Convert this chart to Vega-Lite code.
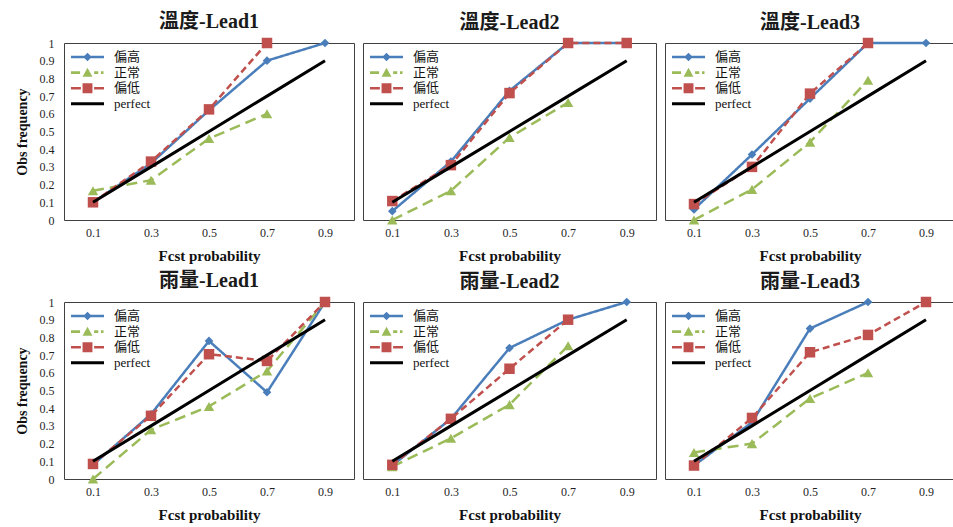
{
  "$schema": "https://vega.github.io/schema/vega-lite/v6.json",
  "background": "white",
  "padding": {"left": 14, "top": 11, "right": 0, "bottom": 0},
  "autosize": {"type": "pad"},
  "datasets": {
    "rel": [
      {"panel": "溫度-Lead1", "series": "偏高", "prob": 0.1, "obs": 0.10},
      {"panel": "溫度-Lead1", "series": "偏高", "prob": 0.3, "obs": 0.32},
      {"panel": "溫度-Lead1", "series": "偏高", "prob": 0.5, "obs": 0.62},
      {"panel": "溫度-Lead1", "series": "偏高", "prob": 0.7, "obs": 0.90},
      {"panel": "溫度-Lead1", "series": "偏高", "prob": 0.9, "obs": 1.0},
      {"panel": "溫度-Lead1", "series": "正常", "prob": 0.1, "obs": 0.165},
      {"panel": "溫度-Lead1", "series": "正常", "prob": 0.3, "obs": 0.225},
      {"panel": "溫度-Lead1", "series": "正常", "prob": 0.5, "obs": 0.46},
      {"panel": "溫度-Lead1", "series": "正常", "prob": 0.7, "obs": 0.60},
      {"panel": "溫度-Lead1", "series": "偏低", "prob": 0.1, "obs": 0.10},
      {"panel": "溫度-Lead1", "series": "偏低", "prob": 0.3, "obs": 0.33},
      {"panel": "溫度-Lead1", "series": "偏低", "prob": 0.5, "obs": 0.625},
      {"panel": "溫度-Lead1", "series": "偏低", "prob": 0.7, "obs": 1.0},
      {"panel": "溫度-Lead1", "series": "perfect", "prob": 0.1, "obs": 0.1},
      {"panel": "溫度-Lead1", "series": "perfect", "prob": 0.3, "obs": 0.3},
      {"panel": "溫度-Lead1", "series": "perfect", "prob": 0.5, "obs": 0.5},
      {"panel": "溫度-Lead1", "series": "perfect", "prob": 0.7, "obs": 0.7},
      {"panel": "溫度-Lead1", "series": "perfect", "prob": 0.9, "obs": 0.9},

      {"panel": "溫度-Lead2", "series": "偏高", "prob": 0.1, "obs": 0.05},
      {"panel": "溫度-Lead2", "series": "偏高", "prob": 0.3, "obs": 0.33},
      {"panel": "溫度-Lead2", "series": "偏高", "prob": 0.5, "obs": 0.73},
      {"panel": "溫度-Lead2", "series": "偏高", "prob": 0.7, "obs": 1.0},
      {"panel": "溫度-Lead2", "series": "偏高", "prob": 0.9, "obs": 1.0},
      {"panel": "溫度-Lead2", "series": "正常", "prob": 0.1, "obs": 0.0},
      {"panel": "溫度-Lead2", "series": "正常", "prob": 0.3, "obs": 0.165},
      {"panel": "溫度-Lead2", "series": "正常", "prob": 0.5, "obs": 0.466},
      {"panel": "溫度-Lead2", "series": "正常", "prob": 0.7, "obs": 0.664},
      {"panel": "溫度-Lead2", "series": "偏低", "prob": 0.1, "obs": 0.107},
      {"panel": "溫度-Lead2", "series": "偏低", "prob": 0.3, "obs": 0.31},
      {"panel": "溫度-Lead2", "series": "偏低", "prob": 0.5, "obs": 0.717},
      {"panel": "溫度-Lead2", "series": "偏低", "prob": 0.7, "obs": 1.0},
      {"panel": "溫度-Lead2", "series": "偏低", "prob": 0.9, "obs": 1.0},
      {"panel": "溫度-Lead2", "series": "perfect", "prob": 0.1, "obs": 0.1},
      {"panel": "溫度-Lead2", "series": "perfect", "prob": 0.3, "obs": 0.3},
      {"panel": "溫度-Lead2", "series": "perfect", "prob": 0.5, "obs": 0.5},
      {"panel": "溫度-Lead2", "series": "perfect", "prob": 0.7, "obs": 0.7},
      {"panel": "溫度-Lead2", "series": "perfect", "prob": 0.9, "obs": 0.9},

      {"panel": "溫度-Lead3", "series": "偏高", "prob": 0.1, "obs": 0.06},
      {"panel": "溫度-Lead3", "series": "偏高", "prob": 0.3, "obs": 0.37},
      {"panel": "溫度-Lead3", "series": "偏高", "prob": 0.5, "obs": 0.686},
      {"panel": "溫度-Lead3", "series": "偏高", "prob": 0.7, "obs": 1.0},
      {"panel": "溫度-Lead3", "series": "偏高", "prob": 0.9, "obs": 1.0},
      {"panel": "溫度-Lead3", "series": "正常", "prob": 0.1, "obs": 0.0},
      {"panel": "溫度-Lead3", "series": "正常", "prob": 0.3, "obs": 0.173},
      {"panel": "溫度-Lead3", "series": "正常", "prob": 0.5, "obs": 0.44},
      {"panel": "溫度-Lead3", "series": "正常", "prob": 0.7, "obs": 0.79},
      {"panel": "溫度-Lead3", "series": "偏低", "prob": 0.1, "obs": 0.09},
      {"panel": "溫度-Lead3", "series": "偏低", "prob": 0.3, "obs": 0.30},
      {"panel": "溫度-Lead3", "series": "偏低", "prob": 0.5, "obs": 0.714},
      {"panel": "溫度-Lead3", "series": "偏低", "prob": 0.7, "obs": 1.0},
      {"panel": "溫度-Lead3", "series": "perfect", "prob": 0.1, "obs": 0.1},
      {"panel": "溫度-Lead3", "series": "perfect", "prob": 0.3, "obs": 0.3},
      {"panel": "溫度-Lead3", "series": "perfect", "prob": 0.5, "obs": 0.5},
      {"panel": "溫度-Lead3", "series": "perfect", "prob": 0.7, "obs": 0.7},
      {"panel": "溫度-Lead3", "series": "perfect", "prob": 0.9, "obs": 0.9},

      {"panel": "雨量-Lead1", "series": "偏高", "prob": 0.1, "obs": 0.08},
      {"panel": "雨量-Lead1", "series": "偏高", "prob": 0.3, "obs": 0.366},
      {"panel": "雨量-Lead1", "series": "偏高", "prob": 0.5, "obs": 0.78},
      {"panel": "雨量-Lead1", "series": "偏高", "prob": 0.7, "obs": 0.49},
      {"panel": "雨量-Lead1", "series": "偏高", "prob": 0.9, "obs": 1.0},
      {"panel": "雨量-Lead1", "series": "正常", "prob": 0.1, "obs": 0.0},
      {"panel": "雨量-Lead1", "series": "正常", "prob": 0.3, "obs": 0.278},
      {"panel": "雨量-Lead1", "series": "正常", "prob": 0.5, "obs": 0.41},
      {"panel": "雨量-Lead1", "series": "正常", "prob": 0.7, "obs": 0.61},
      {"panel": "雨量-Lead1", "series": "正常", "prob": 0.9, "obs": 1.0},
      {"panel": "雨量-Lead1", "series": "偏低", "prob": 0.1, "obs": 0.085},
      {"panel": "雨量-Lead1", "series": "偏低", "prob": 0.3, "obs": 0.357},
      {"panel": "雨量-Lead1", "series": "偏低", "prob": 0.5, "obs": 0.705},
      {"panel": "雨量-Lead1", "series": "偏低", "prob": 0.7, "obs": 0.667},
      {"panel": "雨量-Lead1", "series": "偏低", "prob": 0.9, "obs": 1.0},
      {"panel": "雨量-Lead1", "series": "perfect", "prob": 0.1, "obs": 0.1},
      {"panel": "雨量-Lead1", "series": "perfect", "prob": 0.3, "obs": 0.3},
      {"panel": "雨量-Lead1", "series": "perfect", "prob": 0.5, "obs": 0.5},
      {"panel": "雨量-Lead1", "series": "perfect", "prob": 0.7, "obs": 0.7},
      {"panel": "雨量-Lead1", "series": "perfect", "prob": 0.9, "obs": 0.9},

      {"panel": "雨量-Lead2", "series": "偏高", "prob": 0.1, "obs": 0.077},
      {"panel": "雨量-Lead2", "series": "偏高", "prob": 0.3, "obs": 0.34},
      {"panel": "雨量-Lead2", "series": "偏高", "prob": 0.5, "obs": 0.74},
      {"panel": "雨量-Lead2", "series": "偏高", "prob": 0.7, "obs": 0.90},
      {"panel": "雨量-Lead2", "series": "偏高", "prob": 0.9, "obs": 1.0},
      {"panel": "雨量-Lead2", "series": "正常", "prob": 0.1, "obs": 0.07},
      {"panel": "雨量-Lead2", "series": "正常", "prob": 0.3, "obs": 0.23},
      {"panel": "雨量-Lead2", "series": "正常", "prob": 0.5, "obs": 0.42},
      {"panel": "雨量-Lead2", "series": "正常", "prob": 0.7, "obs": 0.753},
      {"panel": "雨量-Lead2", "series": "偏低", "prob": 0.1, "obs": 0.08},
      {"panel": "雨量-Lead2", "series": "偏低", "prob": 0.3, "obs": 0.34},
      {"panel": "雨量-Lead2", "series": "偏低", "prob": 0.5, "obs": 0.623},
      {"panel": "雨量-Lead2", "series": "偏低", "prob": 0.7, "obs": 0.90},
      {"panel": "雨量-Lead2", "series": "perfect", "prob": 0.1, "obs": 0.1},
      {"panel": "雨量-Lead2", "series": "perfect", "prob": 0.3, "obs": 0.3},
      {"panel": "雨量-Lead2", "series": "perfect", "prob": 0.5, "obs": 0.5},
      {"panel": "雨量-Lead2", "series": "perfect", "prob": 0.7, "obs": 0.7},
      {"panel": "雨量-Lead2", "series": "perfect", "prob": 0.9, "obs": 0.9},

      {"panel": "雨量-Lead3", "series": "偏高", "prob": 0.1, "obs": 0.076},
      {"panel": "雨量-Lead3", "series": "偏高", "prob": 0.3, "obs": 0.32},
      {"panel": "雨量-Lead3", "series": "偏高", "prob": 0.5, "obs": 0.85},
      {"panel": "雨量-Lead3", "series": "偏高", "prob": 0.7, "obs": 1.0},
      {"panel": "雨量-Lead3", "series": "正常", "prob": 0.1, "obs": 0.15},
      {"panel": "雨量-Lead3", "series": "正常", "prob": 0.3, "obs": 0.20},
      {"panel": "雨量-Lead3", "series": "正常", "prob": 0.5, "obs": 0.455},
      {"panel": "雨量-Lead3", "series": "正常", "prob": 0.7, "obs": 0.60},
      {"panel": "雨量-Lead3", "series": "偏低", "prob": 0.1, "obs": 0.076},
      {"panel": "雨量-Lead3", "series": "偏低", "prob": 0.3, "obs": 0.345},
      {"panel": "雨量-Lead3", "series": "偏低", "prob": 0.5, "obs": 0.716},
      {"panel": "雨量-Lead3", "series": "偏低", "prob": 0.7, "obs": 0.814},
      {"panel": "雨量-Lead3", "series": "偏低", "prob": 0.9, "obs": 1.0},
      {"panel": "雨量-Lead3", "series": "perfect", "prob": 0.1, "obs": 0.1},
      {"panel": "雨量-Lead3", "series": "perfect", "prob": 0.3, "obs": 0.3},
      {"panel": "雨量-Lead3", "series": "perfect", "prob": 0.5, "obs": 0.5},
      {"panel": "雨量-Lead3", "series": "perfect", "prob": 0.7, "obs": 0.7},
      {"panel": "雨量-Lead3", "series": "perfect", "prob": 0.9, "obs": 0.9}
    ]
  },
  "data": {"name": "rel"},
  "columns": 3,
  "align": "each",
  "bounds": "flush",
  "spacing": {"row": 82, "column": 9},
  "resolve": {
    "scale": {"color": "independent", "shape": "independent", "strokeDash": "independent"},
    "legend": {"color": "independent", "shape": "independent"}
  },
  "concat": [
    {
      "title": "溫度-Lead1", "width": 290, "height": 177,
      "transform": [{"filter": "datum.panel === '溫度-Lead1'"}],
      "encoding": {
        "x": {"field": "prob", "type": "ordinal", "scale": {"type": "point", "padding": 0.5, "domain": [0.1, 0.3, 0.5, 0.7, 0.9]}, "axis": {"title": "Fcst probability"}},
        "y": {"field": "obs", "type": "quantitative", "scale": {"domain": [0, 1], "nice": false}, "axis": {"title": "Obs frequency", "values": [0, 0.1, 0.2, 0.3, 0.4, 0.5, 0.6, 0.7, 0.8, 0.9, 1], "format": "~g"}}
      },
      "layer": [
        {"mark": {"type": "point", "filled": true, "opacity": 0},
         "encoding": {
           "color": {"field": "series", "type": "nominal", "scale": {"domain": ["偏高", "正常", "偏低", "perfect"], "range": ["#4A7EBB", "#9BBB59", "#C0504D", "#000000"]}, "legend": {"title": null}},
           "shape": {"field": "series", "type": "nominal", "scale": {"domain": ["偏高", "正常", "偏低", "perfect"], "range": ["M-1,-0.08H1V0.08H-1Z M0,-0.26L0.26,0L0,0.26L-0.26,0Z", "M-1,-0.08H-0.45V0.08H-1Z M0,-0.3L0.3,0.25H-0.3Z M0.4,-0.08H0.65V0.08H0.4Z M0.82,-0.08H0.97V0.08H0.82Z", "M-1,-0.08H-0.4V0.08H-1Z M-0.3,-0.3H0.3V0.3H-0.3Z M0.4,-0.08H1V0.08H0.4Z", "M-1,-0.09H1V0.09H-1Z"]}, "legend": {"title": null}}
         }},
        {"transform": [{"filter": "datum.series !== 'perfect'"}],
         "mark": {"type": "line", "strokeWidth": 2.5},
         "encoding": {
           "color": {"field": "series", "type": "nominal", "scale": {"domain": ["偏高", "正常", "偏低", "perfect"], "range": ["#4A7EBB", "#9BBB59", "#C0504D", "#000000"]}, "legend": null},
           "strokeDash": {"field": "series", "type": "nominal", "scale": {"domain": ["偏高", "正常", "偏低", "perfect"], "range": [[1, 0], [11, 6], [7, 4], [1, 0]]}, "legend": null}
         }},
        {"transform": [{"filter": "datum.series === '偏高'"}], "mark": {"type": "point", "shape": "diamond", "filled": true, "opacity": 1, "size": 75, "color": "#4A7EBB"}, "encoding": {}},
        {"transform": [{"filter": "datum.series === '正常'"}], "mark": {"type": "point", "shape": "triangle-up", "filled": true, "opacity": 1, "size": 110, "color": "#9BBB59"}, "encoding": {}},
        {"transform": [{"filter": "datum.series === '偏低'"}], "mark": {"type": "point", "shape": "square", "filled": true, "opacity": 1, "size": 110, "color": "#C0504D"}, "encoding": {}},
        {"transform": [{"filter": "datum.series === 'perfect'"}], "mark": {"type": "line", "strokeWidth": 3, "color": "#000000"}, "encoding": {}}
      ]
    },
    {
      "title": "溫度-Lead2", "width": 293, "height": 177,
      "transform": [{"filter": "datum.panel === '溫度-Lead2'"}],
      "encoding": {
        "x": {"field": "prob", "type": "ordinal", "scale": {"type": "point", "padding": 0.5, "domain": [0.1, 0.3, 0.5, 0.7, 0.9]}, "axis": {"title": "Fcst probability"}},
        "y": {"field": "obs", "type": "quantitative", "scale": {"domain": [0, 1], "nice": false}, "axis": null}
      },
      "layer": [
        {"mark": {"type": "point", "filled": true, "opacity": 0},
         "encoding": {
           "color": {"field": "series", "type": "nominal", "scale": {"domain": ["偏高", "正常", "偏低", "perfect"], "range": ["#4A7EBB", "#9BBB59", "#C0504D", "#000000"]}, "legend": {"title": null}},
           "shape": {"field": "series", "type": "nominal", "scale": {"domain": ["偏高", "正常", "偏低", "perfect"], "range": ["M-1,-0.08H1V0.08H-1Z M0,-0.26L0.26,0L0,0.26L-0.26,0Z", "M-1,-0.08H-0.45V0.08H-1Z M0,-0.3L0.3,0.25H-0.3Z M0.4,-0.08H0.65V0.08H0.4Z M0.82,-0.08H0.97V0.08H0.82Z", "M-1,-0.08H-0.4V0.08H-1Z M-0.3,-0.3H0.3V0.3H-0.3Z M0.4,-0.08H1V0.08H0.4Z", "M-1,-0.09H1V0.09H-1Z"]}, "legend": {"title": null}}
         }},
        {"transform": [{"filter": "datum.series !== 'perfect'"}],
         "mark": {"type": "line", "strokeWidth": 2.5},
         "encoding": {
           "color": {"field": "series", "type": "nominal", "scale": {"domain": ["偏高", "正常", "偏低", "perfect"], "range": ["#4A7EBB", "#9BBB59", "#C0504D", "#000000"]}, "legend": null},
           "strokeDash": {"field": "series", "type": "nominal", "scale": {"domain": ["偏高", "正常", "偏低", "perfect"], "range": [[1, 0], [11, 6], [7, 4], [1, 0]]}, "legend": null}
         }},
        {"transform": [{"filter": "datum.series === '偏高'"}], "mark": {"type": "point", "shape": "diamond", "filled": true, "opacity": 1, "size": 75, "color": "#4A7EBB"}, "encoding": {}},
        {"transform": [{"filter": "datum.series === '正常'"}], "mark": {"type": "point", "shape": "triangle-up", "filled": true, "opacity": 1, "size": 110, "color": "#9BBB59"}, "encoding": {}},
        {"transform": [{"filter": "datum.series === '偏低'"}], "mark": {"type": "point", "shape": "square", "filled": true, "opacity": 1, "size": 110, "color": "#C0504D"}, "encoding": {}},
        {"transform": [{"filter": "datum.series === 'perfect'"}], "mark": {"type": "line", "strokeWidth": 3, "color": "#000000"}, "encoding": {}}
      ]
    },
    {
      "title": "溫度-Lead3", "width": 290, "height": 177,
      "transform": [{"filter": "datum.panel === '溫度-Lead3'"}],
      "encoding": {
        "x": {"field": "prob", "type": "ordinal", "scale": {"type": "point", "padding": 0.5, "domain": [0.1, 0.3, 0.5, 0.7, 0.9]}, "axis": {"title": "Fcst probability"}},
        "y": {"field": "obs", "type": "quantitative", "scale": {"domain": [0, 1], "nice": false}, "axis": null}
      },
      "layer": [
        {"mark": {"type": "point", "filled": true, "opacity": 0},
         "encoding": {
           "color": {"field": "series", "type": "nominal", "scale": {"domain": ["偏高", "正常", "偏低", "perfect"], "range": ["#4A7EBB", "#9BBB59", "#C0504D", "#000000"]}, "legend": {"title": null}},
           "shape": {"field": "series", "type": "nominal", "scale": {"domain": ["偏高", "正常", "偏低", "perfect"], "range": ["M-1,-0.08H1V0.08H-1Z M0,-0.26L0.26,0L0,0.26L-0.26,0Z", "M-1,-0.08H-0.45V0.08H-1Z M0,-0.3L0.3,0.25H-0.3Z M0.4,-0.08H0.65V0.08H0.4Z M0.82,-0.08H0.97V0.08H0.82Z", "M-1,-0.08H-0.4V0.08H-1Z M-0.3,-0.3H0.3V0.3H-0.3Z M0.4,-0.08H1V0.08H0.4Z", "M-1,-0.09H1V0.09H-1Z"]}, "legend": {"title": null}}
         }},
        {"transform": [{"filter": "datum.series !== 'perfect'"}],
         "mark": {"type": "line", "strokeWidth": 2.5},
         "encoding": {
           "color": {"field": "series", "type": "nominal", "scale": {"domain": ["偏高", "正常", "偏低", "perfect"], "range": ["#4A7EBB", "#9BBB59", "#C0504D", "#000000"]}, "legend": null},
           "strokeDash": {"field": "series", "type": "nominal", "scale": {"domain": ["偏高", "正常", "偏低", "perfect"], "range": [[1, 0], [11, 6], [7, 4], [1, 0]]}, "legend": null}
         }},
        {"transform": [{"filter": "datum.series === '偏高'"}], "mark": {"type": "point", "shape": "diamond", "filled": true, "opacity": 1, "size": 75, "color": "#4A7EBB"}, "encoding": {}},
        {"transform": [{"filter": "datum.series === '正常'"}], "mark": {"type": "point", "shape": "triangle-up", "filled": true, "opacity": 1, "size": 110, "color": "#9BBB59"}, "encoding": {}},
        {"transform": [{"filter": "datum.series === '偏低'"}], "mark": {"type": "point", "shape": "square", "filled": true, "opacity": 1, "size": 110, "color": "#C0504D"}, "encoding": {}},
        {"transform": [{"filter": "datum.series === 'perfect'"}], "mark": {"type": "line", "strokeWidth": 3, "color": "#000000"}, "encoding": {}}
      ]
    },
    {
      "title": "雨量-Lead1", "width": 290, "height": 177,
      "transform": [{"filter": "datum.panel === '雨量-Lead1'"}],
      "encoding": {
        "x": {"field": "prob", "type": "ordinal", "scale": {"type": "point", "padding": 0.5, "domain": [0.1, 0.3, 0.5, 0.7, 0.9]}, "axis": {"title": "Fcst probability"}},
        "y": {"field": "obs", "type": "quantitative", "scale": {"domain": [0, 1], "nice": false}, "axis": {"title": "Obs frequency", "values": [0, 0.1, 0.2, 0.3, 0.4, 0.5, 0.6, 0.7, 0.8, 0.9, 1], "format": "~g"}}
      },
      "layer": [
        {"mark": {"type": "point", "filled": true, "opacity": 0},
         "encoding": {
           "color": {"field": "series", "type": "nominal", "scale": {"domain": ["偏高", "正常", "偏低", "perfect"], "range": ["#4A7EBB", "#9BBB59", "#C0504D", "#000000"]}, "legend": {"title": null}},
           "shape": {"field": "series", "type": "nominal", "scale": {"domain": ["偏高", "正常", "偏低", "perfect"], "range": ["M-1,-0.08H1V0.08H-1Z M0,-0.26L0.26,0L0,0.26L-0.26,0Z", "M-1,-0.08H-0.45V0.08H-1Z M0,-0.3L0.3,0.25H-0.3Z M0.4,-0.08H0.65V0.08H0.4Z M0.82,-0.08H0.97V0.08H0.82Z", "M-1,-0.08H-0.4V0.08H-1Z M-0.3,-0.3H0.3V0.3H-0.3Z M0.4,-0.08H1V0.08H0.4Z", "M-1,-0.09H1V0.09H-1Z"]}, "legend": {"title": null}}
         }},
        {"transform": [{"filter": "datum.series !== 'perfect'"}],
         "mark": {"type": "line", "strokeWidth": 2.5},
         "encoding": {
           "color": {"field": "series", "type": "nominal", "scale": {"domain": ["偏高", "正常", "偏低", "perfect"], "range": ["#4A7EBB", "#9BBB59", "#C0504D", "#000000"]}, "legend": null},
           "strokeDash": {"field": "series", "type": "nominal", "scale": {"domain": ["偏高", "正常", "偏低", "perfect"], "range": [[1, 0], [11, 6], [7, 4], [1, 0]]}, "legend": null}
         }},
        {"transform": [{"filter": "datum.series === '偏高'"}], "mark": {"type": "point", "shape": "diamond", "filled": true, "opacity": 1, "size": 75, "color": "#4A7EBB"}, "encoding": {}},
        {"transform": [{"filter": "datum.series === '正常'"}], "mark": {"type": "point", "shape": "triangle-up", "filled": true, "opacity": 1, "size": 110, "color": "#9BBB59"}, "encoding": {}},
        {"transform": [{"filter": "datum.series === '偏低'"}], "mark": {"type": "point", "shape": "square", "filled": true, "opacity": 1, "size": 110, "color": "#C0504D"}, "encoding": {}},
        {"transform": [{"filter": "datum.series === 'perfect'"}], "mark": {"type": "line", "strokeWidth": 3, "color": "#000000"}, "encoding": {}}
      ]
    },
    {
      "title": "雨量-Lead2", "width": 293, "height": 177,
      "transform": [{"filter": "datum.panel === '雨量-Lead2'"}],
      "encoding": {
        "x": {"field": "prob", "type": "ordinal", "scale": {"type": "point", "padding": 0.5, "domain": [0.1, 0.3, 0.5, 0.7, 0.9]}, "axis": {"title": "Fcst probability"}},
        "y": {"field": "obs", "type": "quantitative", "scale": {"domain": [0, 1], "nice": false}, "axis": null}
      },
      "layer": [
        {"mark": {"type": "point", "filled": true, "opacity": 0},
         "encoding": {
           "color": {"field": "series", "type": "nominal", "scale": {"domain": ["偏高", "正常", "偏低", "perfect"], "range": ["#4A7EBB", "#9BBB59", "#C0504D", "#000000"]}, "legend": {"title": null}},
           "shape": {"field": "series", "type": "nominal", "scale": {"domain": ["偏高", "正常", "偏低", "perfect"], "range": ["M-1,-0.08H1V0.08H-1Z M0,-0.26L0.26,0L0,0.26L-0.26,0Z", "M-1,-0.08H-0.45V0.08H-1Z M0,-0.3L0.3,0.25H-0.3Z M0.4,-0.08H0.65V0.08H0.4Z M0.82,-0.08H0.97V0.08H0.82Z", "M-1,-0.08H-0.4V0.08H-1Z M-0.3,-0.3H0.3V0.3H-0.3Z M0.4,-0.08H1V0.08H0.4Z", "M-1,-0.09H1V0.09H-1Z"]}, "legend": {"title": null}}
         }},
        {"transform": [{"filter": "datum.series !== 'perfect'"}],
         "mark": {"type": "line", "strokeWidth": 2.5},
         "encoding": {
           "color": {"field": "series", "type": "nominal", "scale": {"domain": ["偏高", "正常", "偏低", "perfect"], "range": ["#4A7EBB", "#9BBB59", "#C0504D", "#000000"]}, "legend": null},
           "strokeDash": {"field": "series", "type": "nominal", "scale": {"domain": ["偏高", "正常", "偏低", "perfect"], "range": [[1, 0], [11, 6], [7, 4], [1, 0]]}, "legend": null}
         }},
        {"transform": [{"filter": "datum.series === '偏高'"}], "mark": {"type": "point", "shape": "diamond", "filled": true, "opacity": 1, "size": 75, "color": "#4A7EBB"}, "encoding": {}},
        {"transform": [{"filter": "datum.series === '正常'"}], "mark": {"type": "point", "shape": "triangle-up", "filled": true, "opacity": 1, "size": 110, "color": "#9BBB59"}, "encoding": {}},
        {"transform": [{"filter": "datum.series === '偏低'"}], "mark": {"type": "point", "shape": "square", "filled": true, "opacity": 1, "size": 110, "color": "#C0504D"}, "encoding": {}},
        {"transform": [{"filter": "datum.series === 'perfect'"}], "mark": {"type": "line", "strokeWidth": 3, "color": "#000000"}, "encoding": {}}
      ]
    },
    {
      "title": "雨量-Lead3", "width": 290, "height": 177,
      "transform": [{"filter": "datum.panel === '雨量-Lead3'"}],
      "encoding": {
        "x": {"field": "prob", "type": "ordinal", "scale": {"type": "point", "padding": 0.5, "domain": [0.1, 0.3, 0.5, 0.7, 0.9]}, "axis": {"title": "Fcst probability"}},
        "y": {"field": "obs", "type": "quantitative", "scale": {"domain": [0, 1], "nice": false}, "axis": null}
      },
      "layer": [
        {"mark": {"type": "point", "filled": true, "opacity": 0},
         "encoding": {
           "color": {"field": "series", "type": "nominal", "scale": {"domain": ["偏高", "正常", "偏低", "perfect"], "range": ["#4A7EBB", "#9BBB59", "#C0504D", "#000000"]}, "legend": {"title": null}},
           "shape": {"field": "series", "type": "nominal", "scale": {"domain": ["偏高", "正常", "偏低", "perfect"], "range": ["M-1,-0.08H1V0.08H-1Z M0,-0.26L0.26,0L0,0.26L-0.26,0Z", "M-1,-0.08H-0.45V0.08H-1Z M0,-0.3L0.3,0.25H-0.3Z M0.4,-0.08H0.65V0.08H0.4Z M0.82,-0.08H0.97V0.08H0.82Z", "M-1,-0.08H-0.4V0.08H-1Z M-0.3,-0.3H0.3V0.3H-0.3Z M0.4,-0.08H1V0.08H0.4Z", "M-1,-0.09H1V0.09H-1Z"]}, "legend": {"title": null}}
         }},
        {"transform": [{"filter": "datum.series !== 'perfect'"}],
         "mark": {"type": "line", "strokeWidth": 2.5},
         "encoding": {
           "color": {"field": "series", "type": "nominal", "scale": {"domain": ["偏高", "正常", "偏低", "perfect"], "range": ["#4A7EBB", "#9BBB59", "#C0504D", "#000000"]}, "legend": null},
           "strokeDash": {"field": "series", "type": "nominal", "scale": {"domain": ["偏高", "正常", "偏低", "perfect"], "range": [[1, 0], [11, 6], [7, 4], [1, 0]]}, "legend": null}
         }},
        {"transform": [{"filter": "datum.series === '偏高'"}], "mark": {"type": "point", "shape": "diamond", "filled": true, "opacity": 1, "size": 75, "color": "#4A7EBB"}, "encoding": {}},
        {"transform": [{"filter": "datum.series === '正常'"}], "mark": {"type": "point", "shape": "triangle-up", "filled": true, "opacity": 1, "size": 110, "color": "#9BBB59"}, "encoding": {}},
        {"transform": [{"filter": "datum.series === '偏低'"}], "mark": {"type": "point", "shape": "square", "filled": true, "opacity": 1, "size": 110, "color": "#C0504D"}, "encoding": {}},
        {"transform": [{"filter": "datum.series === 'perfect'"}], "mark": {"type": "line", "strokeWidth": 3, "color": "#000000"}, "encoding": {}}
      ]
    }
  ],
  "config": {
    "view": {"stroke": "#404040", "strokeWidth": 1},
    "font": "Liberation Serif",
    "title": {"font": "Liberation Serif, Noto Sans CJK TC", "fontSize": 20, "fontWeight": "bold", "color": "#1a1a1a", "offset": 5, "anchor": "middle"},
    "axis": {"domain": false, "ticks": false, "grid": false, "labelFont": "Liberation Serif", "labelFontSize": 12, "labelColor": "#1f1f1f", "titleFont": "Liberation Serif", "titleFontWeight": "bold", "titleColor": "#111111"},
    "axisX": {"labelPadding": 7, "titlePadding": 10, "labelAngle": 0, "titleFontSize": 15},
    "axisY": {"labelPadding": 10, "titlePadding": 10, "titleFontSize": 14},
    "legend": {"orient": "top-left", "offset": 7, "padding": 0, "labelFont": "Liberation Serif, Noto Sans CJK TC", "labelFontSize": 13, "labelColor": "#111111", "labelOffset": 10, "symbolSize": 1089, "clipHeight": 14, "rowPadding": 1.6, "symbolOpacity": 1, "symbolStrokeWidth": 0}
  }
}
